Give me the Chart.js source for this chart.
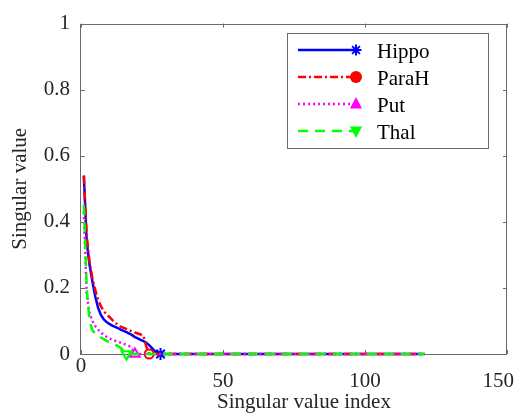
<!DOCTYPE html>
<html><head><meta charset="utf-8">
<script src="https://cdn.jsdelivr.net/npm/chart.js@4.4.1/dist/chart.umd.min.js"></script>
<style>html,body{margin:0;padding:0;background:#fff}#wrap{width:518px;height:416px;position:relative}
.pre{position:absolute;left:-9999px;top:0;font-family:"Liberation Serif","DejaVu Serif",serif;font-size:21px}</style>
</head><body><div id="wrap"><canvas id="c" width="518" height="416"></canvas></div>
<span class="pre">Singular value index 0.8 Hippo</span>
<script>
// ---- data ----
const seriesNames = ['Hippo', 'ParaH', 'Put', 'Thal'];

const hippoIdx = [1,2,3,4,5,6,7,8,9,10,11,12,13,14,15,16,17,18,19,20,21,22,23,24,25,26,27,28,121];
const hippoVal = [0.54,0.34,0.27,0.22,0.175,0.14,0.118,0.105,0.097,0.091,0.086,0.082,0.078,0.074,0.07,0.066,0.062,0.057,0.051,0.047,0.043,0.039,0.034,0.027,0.018,0.009,0.003,0,0];
const hippoMarkerAt = 28;

const parahIdx = [1,2,3,4,5,6,7,8,9,10,11,12,13,14,15,16,17,18,19,20,21,22,23,24,121];
const parahVal = [0.54,0.36,0.28,0.23,0.195,0.165,0.145,0.13,0.12,0.112,0.103,0.095,0.088,0.083,0.079,0.076,0.072,0.068,0.065,0.062,0.059,0.055,0.022,0,0];
const parahMarkerAt = 24;

const putIdx = [1,2,3,4,5,6,7,8,9,10,11,12,13,14,15,16,17,18,19,121];
const putVal = [0.43,0.18,0.125,0.1,0.085,0.074,0.065,0.058,0.052,0.047,0.043,0.04,0.037,0.034,0.031,0.028,0.024,0.015,0,0];
const putMarkerAt = 19;

const thalIdx = [1,2,3,4,5,6,7,8,9,10,11,12,13,14,15,16,121];
const thalVal = [0.45,0.2,0.1,0.072,0.062,0.055,0.05,0.045,0.04,0.036,0.033,0.029,0.024,0.018,0.009,0,0];
const thalMarkerAt = 16;

const xTicks = [0, 50, 100, 150];
const xTickLabels = ['0', '50', '100', '150'];
const yTicks = [0, 0.2, 0.4, 0.6, 0.8, 1];
const yTickLabels = ['0', '0.2', '0.4', '0.6', '0.8', '1'];
const xTitle = 'Singular value index';
const yTitle = 'Singular value';

// ---- styling ----
const SERIF = '"Liberation Serif", "DejaVu Serif", serif';
const AXIS_TEXT = '#262626';
const FRAME = '#6a6a6a';

function pts(xs, ys) { return xs.map((x, i) => ({ x: x, y: ys[i] })); }
function markerRadius(markerX, r) {
  return ctx => (ctx.raw && ctx.raw.x === markerX) ? r : 0;
}

const datasets = [
  { label: seriesNames[0], data: pts(hippoIdx, hippoVal), borderColor: '#0000ff', borderWidth: 2.5, borderDash: [],
    pointStyle: 'star', pointRadius: markerRadius(hippoMarkerAt, 6), pointBorderWidth: 2, pointBorderColor: '#0000ff',
    pointBackgroundColor: '#0000ff', order: 4,
    legendMarker: { style: 'star', r: 5.5, fill: false, rot: 0 } },
  { label: seriesNames[1], data: pts(parahIdx, parahVal), borderColor: '#ff0000', borderWidth: 2.5, borderDash: [8, 3, 2, 3],
    pointStyle: 'circle', pointRadius: markerRadius(parahMarkerAt, 4.5), pointBorderWidth: 2, pointBorderColor: '#ff0000',
    pointBackgroundColor: 'rgba(0,0,0,0)', order: 3,
    legendMarker: { style: 'circle', r: 6, fill: true, rot: 0 } },
  { label: seriesNames[2], data: pts(putIdx, putVal), borderColor: '#ff00ff', borderWidth: 2.5, borderDash: [2, 3],
    pointStyle: 'triangle', pointRadius: markerRadius(putMarkerAt, 5.5), pointBorderWidth: 2, pointBorderColor: '#ff00ff',
    pointBackgroundColor: 'rgba(0,0,0,0)', order: 2,
    legendMarker: { style: 'triangle', r: 7, fill: true, rot: 0 } },
  { label: seriesNames[3], data: pts(thalIdx, thalVal), borderColor: '#00ff00', borderWidth: 2.5, borderDash: [10, 7],
    pointStyle: 'triangle', pointRotation: 180, pointRadius: markerRadius(thalMarkerAt, 5.5), pointBorderWidth: 2.2, pointBorderColor: '#00ff00',
    pointBackgroundColor: 'rgba(0,0,0,0)', order: 1,
    legendMarker: { style: 'triangle', r: 7, fill: true, rot: 180 } }
];
datasets.forEach(d => { d.fill = false; d.tension = 0; d.clip = false; d.pointHoverRadius = 0; d.borderCapStyle = 'butt'; });

function drawMarker(ctx, m, color, x, y) {
  ctx.save();
  ctx.translate(x, y);
  ctx.rotate(m.rot * Math.PI / 180);
  ctx.strokeStyle = color; ctx.fillStyle = color; ctx.lineWidth = 2; ctx.setLineDash([]);
  ctx.beginPath();
  if (m.style === 'star') {
    for (let k = 0; k < 4; k++) {
      const a = k * Math.PI / 4;
      ctx.moveTo(-Math.cos(a) * m.r, -Math.sin(a) * m.r);
      ctx.lineTo(Math.cos(a) * m.r, Math.sin(a) * m.r);
    }
    ctx.stroke();
  } else if (m.style === 'circle') {
    ctx.arc(0, 0, m.r, 0, Math.PI * 2);
    if (m.fill) ctx.fill(); else ctx.stroke();
  } else if (m.style === 'triangle') {
    const r = m.r;
    ctx.moveTo(0, -r);
    ctx.lineTo(r * 0.866, r * 0.5 + 1);
    ctx.lineTo(-r * 0.866, r * 0.5 + 1);
    ctx.closePath();
    if (m.fill) ctx.fill(); else ctx.stroke();
  }
  ctx.restore();
}

const framePlugin = {
  id: 'frameAndTicks',
  beforeDatasetsDraw(chart) {
    const { ctx, chartArea: a, scales } = chart;
    ctx.save();
    ctx.strokeStyle = FRAME; ctx.lineWidth = 1;
    ctx.strokeRect(Math.round(a.left) - 0.5, Math.round(a.top) + 0.5, Math.round(a.right - a.left), Math.round(a.bottom - a.top));
    const tl = 4;
    ctx.beginPath();
    xTicks.forEach(v => {
      const px = Math.round(scales.x.getPixelForValue(v)) + 0.5;
      ctx.moveTo(px, a.bottom); ctx.lineTo(px, a.bottom - tl);
      ctx.moveTo(px, a.top); ctx.lineTo(px, a.top + tl);
    });
    yTicks.forEach(v => {
      const py = Math.round(scales.y.getPixelForValue(v)) + 0.5;
      ctx.moveTo(a.left, py); ctx.lineTo(a.left + tl, py);
      ctx.moveTo(a.right, py); ctx.lineTo(a.right - tl, py);
    });
    ctx.stroke();
    ctx.restore();
  },
  afterDraw(chart) {
    const { ctx, chartArea: a, scales, width } = chart;
    ctx.save();
    ctx.font = '21px ' + SERIF;
    ctx.fillStyle = AXIS_TEXT;
    ctx.textAlign = 'center';
    ctx.textBaseline = 'middle';
    xTicks.forEach((v, i) => {
      let px = scales.x.getPixelForValue(v);
      const w = ctx.measureText(xTickLabels[i]).width;
      if (px + w / 2 > width - 4) px = width - 4 - w / 2;
      const py = (v === 0) ? a.bottom + 12 : a.bottom + 27;
      ctx.fillText(xTickLabels[i], px, py);
    });
    ctx.fillText(xTitle, (a.left + a.right) / 2 + 10, a.bottom + 48);

    const L = { x: 287.5, y: 33.5, w: 201, h: 115 };
    ctx.fillStyle = '#ffffff';
    ctx.fillRect(L.x, L.y, L.w, L.h);
    ctx.strokeStyle = FRAME; ctx.lineWidth = 1;
    ctx.strokeRect(L.x, L.y, L.w, L.h);
    const rowsY = [50, 77, 104, 131];
    chart.data.datasets.forEach((d, i) => {
      const y = rowsY[i];
      ctx.save();
      ctx.strokeStyle = d.borderColor; ctx.lineWidth = d.borderWidth;
      ctx.setLineDash(d.borderDash); ctx.lineCap = 'butt';
      ctx.beginPath(); ctx.moveTo(298, y); ctx.lineTo(356, y); ctx.stroke();
      ctx.restore();
      drawMarker(ctx, d.legendMarker, d.borderColor, 356, y);
      ctx.fillStyle = '#000000';
      ctx.font = '21px ' + SERIF;
      ctx.textAlign = 'left'; ctx.textBaseline = 'middle';
      ctx.fillText(d.label, 377, y + 2);
    });
    ctx.restore();
  }
};

function build() {
  new Chart(document.getElementById('c'), {
    type: 'line',
    data: { datasets: datasets },
    options: {
      responsive: false,
      devicePixelRatio: 1,
      animation: false,
      events: [],
      layout: { padding: { left: 0, right: 11, top: 13.5, bottom: 0 } },
      plugins: { legend: { display: false }, tooltip: { enabled: false } },
      scales: {
        x: {
          type: 'linear', min: 0, max: 150,
          afterBuildTicks: s => { s.ticks = xTicks.map(v => ({ value: v })); },
          ticks: { display: false },
          grid: { display: false, drawTicks: false },
          border: { display: false },
          afterFit: s => { s.height = 62; }
        },
        y: {
          type: 'linear', min: 0, max: 1,
          afterBuildTicks: s => { s.ticks = yTicks.map(v => ({ value: v })); },
          ticks: {
            callback: (v, i) => yTickLabels[i],
            font: { family: SERIF, size: 21 },
            color: AXIS_TEXT,
            padding: 11
          },
          grid: { display: false, drawTicks: false },
          border: { display: false },
          title: { display: true, text: yTitle, font: { family: SERIF, size: 21 }, color: AXIS_TEXT, padding: { top: 7.4, bottom: 0 } },
          afterFit: s => { s.width = 81; }
        }
      }
    },
    plugins: [framePlugin]
  });
}
if (document.fonts && document.fonts.load) {
  document.fonts.load('21px "Liberation Serif"').then(build, build);
} else { build(); }
</script>
</body></html>
